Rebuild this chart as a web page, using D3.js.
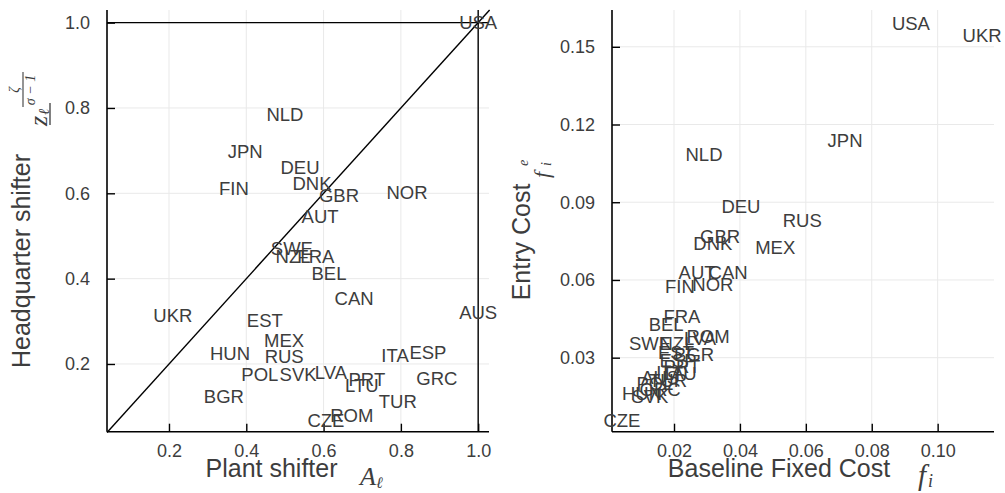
<!DOCTYPE html>
<html>
<head>
<meta charset="utf-8">
<script src="https://cdnjs.cloudflare.com/ajax/libs/d3/7.8.5/d3.min.js"></script>
<style>
  body { margin: 0; background: #fff; }
  text { font-family: "Liberation Sans", Arial, sans-serif; }
  .math { font-family: "Liberation Serif", "DejaVu Serif", serif; font-style: italic; }
</style>
</head>
<body>
<div id="chart"></div>
<script>
const countries = ["USA","NLD","JPN","DEU","DNK","FIN","GBR","NOR","AUT","SWE","NZL","FRA","BEL","CAN","AUS","UKR",
  "EST","MEX","HUN","RUS","ITA","ESP","POL","SVK","LVA","PRT","LTU","GRC","BGR","TUR","ROM","CZE"];

// left panel
const plantShifter = [1.0,0.500,0.397,0.539,0.570,0.368,0.640,0.816,0.591,0.518,0.521,0.580,0.614,0.679,1.0,0.210,
  0.448,0.498,0.358,0.498,0.785,0.870,0.435,0.534,0.619,0.712,0.699,0.893,0.342,0.792,0.673,0.606];
const hqShifter = [1.0,0.784,0.699,0.662,0.624,0.612,0.596,0.603,0.545,0.470,0.453,0.453,0.413,0.355,0.322,0.315,
  0.303,0.256,0.224,0.217,0.221,0.228,0.176,0.176,0.181,0.163,0.151,0.167,0.125,0.113,0.080,0.069];

// right panel
const baseFixedCost = [0.0919,0.0291,0.0719,0.0403,0.0318,0.0218,0.0340,0.0318,0.0270,0.0127,0.0209,0.0224,0.0176,0.0364,0.0158,0.1135,
  0.0206,0.0507,0.0103,0.0589,0.0188,0.0212,0.0142,0.0127,0.0279,0.0224,0.0218,0.0158,0.0261,0.0182,0.0303,0.0042];
const entryCost = [0.1592,0.1083,0.1137,0.0886,0.0742,0.0577,0.0770,0.0585,0.0631,0.0357,0.0357,0.0461,0.0430,0.0631,0.0225,0.1546,
  0.0322,0.0724,0.0164,0.0832,0.0245,0.0291,0.0202,0.0152,0.0376,0.0268,0.0241,0.0179,0.0314,0.0214,0.0384,0.0059];

const leftXTicks = [0.2, 0.4, 0.6, 0.8, 1.0];
const leftYTicks = [0.2, 0.4, 0.6, 0.8, 1.0];
const rightXTicks = [0.02, 0.04, 0.06, 0.08, 0.10];
const rightYTicks = [0.03, 0.06, 0.09, 0.12, 0.15];
const refValue = 1.0; // hline / vline at 1

const width = 1005, height = 493;
const textColor = "#3d3d3d";

const svg = d3.select("#chart").append("svg")
  .attr("width", width)
  .attr("height", height);

function panel(opts) {
  const x = d3.scaleLinear().domain(opts.xDomain).range([opts.left, opts.right]);
  const y = d3.scaleLinear().domain(opts.yDomain).range([opts.bottom, opts.top]);
  const g = svg.append("g");

  // grid
  g.selectAll(".gx").data(opts.xTicks).enter().append("line")
    .attr("x1", d => x(d)).attr("x2", d => x(d))
    .attr("y1", opts.top).attr("y2", opts.bottom)
    .attr("stroke", "#e9e9e9").attr("stroke-width", 1);
  g.selectAll(".gy").data(opts.yTicks).enter().append("line")
    .attr("x1", opts.left).attr("x2", opts.right)
    .attr("y1", d => y(d)).attr("y2", d => y(d))
    .attr("stroke", "#e9e9e9").attr("stroke-width", 1);

  // axes with inward ticks
  const xAxis = d3.axisBottom(x).tickValues(opts.xTicks).tickFormat(opts.xFmt).tickSizeInner(-8).tickSizeOuter(0).tickPadding(13);
  const yAxis = d3.axisLeft(y).tickValues(opts.yTicks).tickFormat(opts.yFmt).tickSizeInner(-8).tickSizeOuter(0).tickPadding(17);

  const gx = g.append("g").attr("transform", `translate(0,${opts.bottom})`).call(xAxis);
  const gy = g.append("g").attr("transform", `translate(${opts.left},0)`).call(yAxis);
  [gx, gy].forEach(a => {
    a.select(".domain").attr("stroke", "#000").attr("stroke-width", 1.6);
    a.selectAll(".tick line").attr("stroke", "#000").attr("stroke-width", 1.4);
    a.selectAll(".tick text").attr("fill", textColor).style("font-size", "18px")
      .style("font-family", "'Liberation Sans', Arial, sans-serif");
  });
  gx.select(".domain").attr("d", `M${opts.left},0H${opts.right}`);
  gy.select(".domain").attr("d", `M0,${opts.bottom}V${opts.top}`);

  return { g, x, y };
}

// ---- left panel
const L = panel({
  left: 107, right: 489, top: 10, bottom: 431.7,
  xDomain: [0.0396, 1.028], yDomain: [0.0413, 1.0296],
  xTicks: leftXTicks, yTicks: leftYTicks,
  xFmt: d3.format(".1f"), yFmt: d3.format(".1f")
});

// reference lines
L.g.append("line")
  .attr("x1", L.x(L.x.domain()[0])).attr("y1", L.y(L.x.domain()[0]))
  .attr("x2", L.x(L.y.domain()[1])).attr("y2", L.y(L.y.domain()[1]))
  .attr("stroke", "#000").attr("stroke-width", 1.4);
L.g.append("line")
  .attr("x1", L.x(L.x.domain()[0])).attr("x2", L.x(L.x.domain()[1]))
  .attr("y1", L.y(refValue)).attr("y2", L.y(refValue))
  .attr("stroke", "#000").attr("stroke-width", 1.4);
L.g.append("line")
  .attr("x1", L.x(refValue)).attr("x2", L.x(refValue))
  .attr("y1", L.y(L.y.domain()[0])).attr("y2", L.y(L.y.domain()[1]))
  .attr("stroke", "#000").attr("stroke-width", 1.4);

L.g.selectAll(".lab").data(countries).enter().append("text")
  .attr("x", (d, i) => L.x(plantShifter[i]))
  .attr("y", (d, i) => L.y(hqShifter[i]))
  .attr("dy", "0.36em")
  .attr("text-anchor", "middle")
  .attr("fill", textColor)
  .style("font-size", "18.5px")
  .text(d => d);

// ---- right panel
const R = panel({
  left: 612, right: 994, top: 10, bottom: 431.7,
  xDomain: [0.00118, 0.1171], yDomain: [0.00143, 0.1642],
  xTicks: rightXTicks, yTicks: rightYTicks,
  xFmt: d3.format(".2f"), yFmt: d3.format(".2f")
});

R.g.selectAll(".lab").data(countries).enter().append("text")
  .attr("x", (d, i) => R.x(baseFixedCost[i]))
  .attr("y", (d, i) => R.y(entryCost[i]))
  .attr("dy", "0.36em")
  .attr("text-anchor", "middle")
  .attr("fill", textColor)
  .style("font-size", "18.5px")
  .text(d => d);

// ---- axis titles
const title = (x, y, rot, s) => svg.append("text")
  .attr("transform", `translate(${x},${y}) rotate(${rot})`)
  .attr("text-anchor", "middle")
  .attr("fill", textColor)
  .style("font-size", "25px")
  .text(s);

title(271.5, 477, 0, "Plant shifter");
title(30, 261, -90, "Headquarter shifter");
title(779, 477, 0, "Baseline Fixed Cost");
title(530, 242, -90, "Entry Cost");

// math labels
const A = svg.append("text").attr("class", "math").attr("x", 360).attr("y", 485)
  .attr("fill", textColor).style("font-size", "26px").text("A");
A.append("tspan").attr("dy", 3).style("font-size", "16px").text("ℓ");

const fi = svg.append("text").attr("class", "math").attr("x", 918).attr("y", 485)
  .attr("fill", textColor).style("font-size", "29px").text("f");
fi.append("tspan").attr("dx", 2).attr("dy", 2).style("font-size", "18px").text("i");

// f_i^e, rotated
const fe = svg.append("g").attr("transform", "translate(549,178) rotate(-90)");
fe.append("text").attr("class", "math").attr("x", 0).attr("y", 0)
  .attr("fill", textColor).style("font-size", "22px").text("f");
fe.append("text").attr("class", "math").attr("x", 12).attr("y", 2)
  .attr("fill", textColor).style("font-size", "14px").text("i");
fe.append("text").attr("class", "math").attr("x", 12).attr("y", -21)
  .attr("fill", textColor).style("font-size", "14px").text("e");

// z_ell ^ (zeta / (sigma - 1)), rotated
const zl = svg.append("g").attr("transform", "translate(47,126) rotate(-90)");
zl.append("text").attr("class", "math").attr("x", 0).attr("y", 0)
  .attr("fill", textColor).style("font-size", "26px").text("z");
zl.append("line").attr("x1", 1).attr("x2", 23).attr("y1", 3).attr("y2", 3)
  .attr("stroke", textColor).attr("stroke-width", 1.3);
zl.append("text").attr("class", "math").attr("x", 11).attr("y", 2)
  .attr("fill", textColor).style("font-size", "15px").text("ℓ");
zl.append("line").attr("x1", 19).attr("x2", 54).attr("y1", -24).attr("y2", -24)
  .attr("stroke", textColor).attr("stroke-width", 1.1);
zl.append("text").attr("class", "math").attr("x", 36).attr("y", -28)
  .attr("text-anchor", "middle").attr("fill", textColor).style("font-size", "14px").text("ζ");
zl.append("text").attr("class", "math").attr("x", 36).attr("y", -12)
  .attr("text-anchor", "middle").attr("fill", textColor).style("font-size", "14px")
  .text("σ − 1");
</script>
</body>
</html>
